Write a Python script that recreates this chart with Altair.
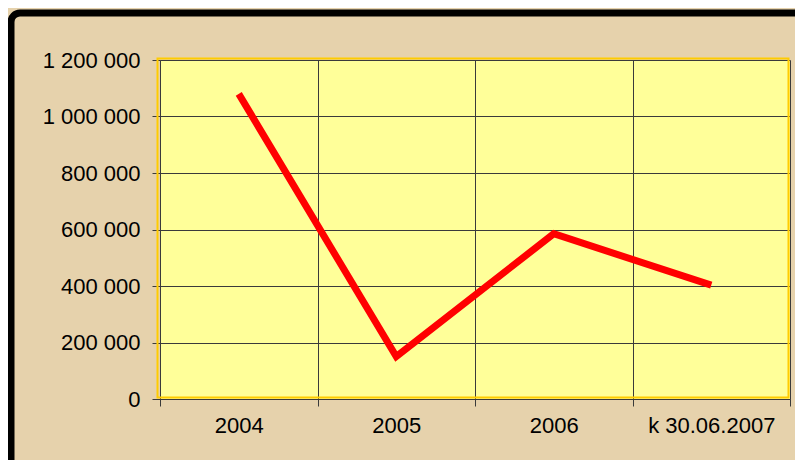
import altair as alt
import pandas as pd

categories = ["2004", "2005", "2006", "k 30.06.2007"]
values = [1080000, 150000, 585000, 403000]
y_ticks = [0, 200000, 400000, 600000, 800000, 1000000, 1200000]

df = pd.DataFrame({"period": categories, "value": values})

FONT = "Liberation Sans"
GRID = "#3a3a3a"
FS = 22

x_enc = alt.X(
    "period:N",
    sort=categories,
    scale=alt.Scale(type="band", paddingInner=0, paddingOuter=0),
    axis=alt.Axis(
        title=None, labelAngle=0, tickBand="extent", grid=True,
        gridColor=GRID, gridWidth=1, domainColor=GRID, tickColor=GRID,
        tickSize=7, labelPadding=9, labelFont=FONT, labelFontSize=FS,
        labelColor="black",
    ),
)
y_enc = alt.Y(
    "value:Q",
    scale=alt.Scale(domain=[0, 1200000], nice=False),
    axis=alt.Axis(
        title=None, values=y_ticks, grid=True, gridColor=GRID, gridWidth=1,
        domainColor=GRID, tickColor=GRID, tickSize=8, labelPadding=12,
        labelFont=FONT, labelFontSize=FS, labelColor="black",
        labelExpr="replace(format(datum.value, ','), regexp(',', 'g'), ' ')",
    ),
)

line = alt.Chart(df).mark_line(
    color="#FF0000", strokeWidth=7, strokeCap="butt", strokeJoin="miter"
).encode(x=x_enc, y=y_enc)

gold = alt.Chart(alt.Data(values=[{}])).mark_rect(
    fill="transparent", stroke="#FFCC00", strokeWidth=2
).encode(
    x=alt.value(-2.5), x2=alt.value(628.5),
    y=alt.value(-1.5), y2=alt.value(337.5),
)

frame = alt.Chart(alt.Data(values=[{}])).mark_rect(
    fill="transparent", stroke="black", strokeWidth=7, cornerRadius=9
).encode(
    x=alt.value(-149), x2=alt.value(720),
    y=alt.value(-47), y2=alt.value(480),
)

chart = alt.layer(gold, line, frame).properties(
    width=630,
    height=339,
    autosize=alt.AutoSizeParams(type="none"),
    padding={"left": 152, "top": 52, "right": 5, "bottom": 61},
).configure(
    background="#E6D2AC",
).configure_view(
    fill="#FFFF99", strokeWidth=0,
)

chart.save("out.html", embed_options={"renderer": "svg", "actions": False})
